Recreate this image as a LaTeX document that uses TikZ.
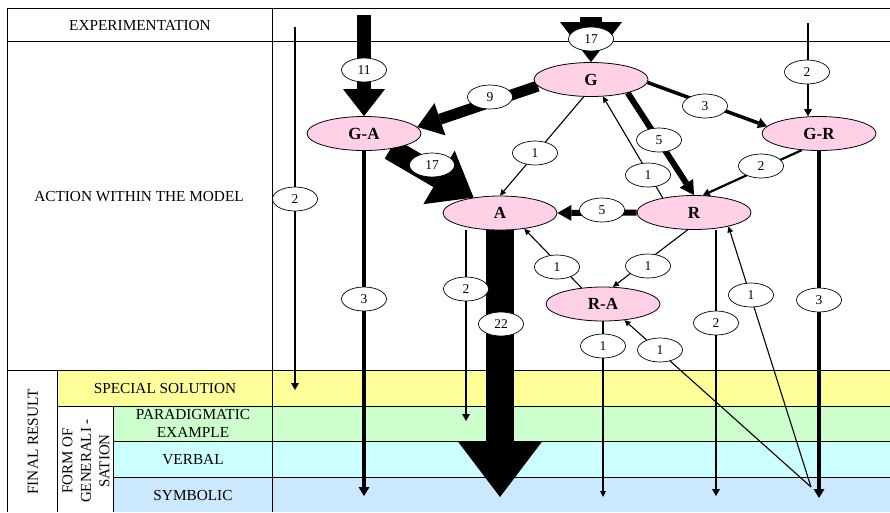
\documentclass[tikz,border=0pt]{standalone}
\usepackage{fontspec}
\setmainfont{Liberation Serif}
\usetikzlibrary{shapes.geometric,arrows.meta,calc}
\definecolor{bandY}{HTML}{FFFF99}
\definecolor{bandG}{HTML}{CCFFCC}
\definecolor{bandC}{HTML}{CCFFFF}
\definecolor{bandB}{HTML}{CCE8FF}
\definecolor{nodepink}{HTML}{FFD0E6}
\pgfdeclarelayer{bg}
\pgfdeclarelayer{edges}
\pgfsetlayers{bg,edges,main}
\tikzset{
  state/.style={ellipse, draw, line width=0.8pt, fill=nodepink, minimum width=114pt, minimum height=34pt, inner sep=0pt, font=\fontsize{17}{20}\selectfont\bfseries},
  cnt/.style={ellipse, draw, line width=0.7pt, fill=white, minimum width=45pt, minimum height=24pt, inner sep=0pt, font=\fontsize{13.5}{15}\selectfont},
  rowlab/.style={font=\fontsize{15.3}{18}\selectfont, align=center, inner sep=0pt},
  gridline/.style={line width=0.9pt},
  wa/.style={line width=1.1pt, -{Triangle[width=6pt,length=6pt,line width=0pt]}},
  wb/.style={line width=2.2pt, -{Triangle[width=8pt,length=7pt,line width=0pt]}},
  wc/.style={line width=3.5pt, -{Triangle[width=11pt,length=9pt,line width=0pt]}},
  we/.style={line width=6pt, -{Triangle[width=16pt,length=14pt,line width=0pt]}},
  wi/.style={line width=11pt, -{Triangle[width=34pt,length=24pt,line width=0pt]}},
  wk/.style={line width=14pt, -{Triangle[width=42pt,length=27pt,line width=0pt]}},
  wq/.style={line width=22.5pt, -{Triangle[width=62pt,length=40pt,line width=0pt]}},
  wv/.style={line width=28pt, -{Triangle[width=85pt,length=56pt,line width=0pt]}},
}
\begin{document}
\begin{tikzpicture}[x=1pt,y=-1pt]
\useasboundingbox (0,0) rectangle (890,512);
% bands and grid
\begin{pgfonlayer}{bg}
\fill[white] (0,0) rectangle (890,512);
\fill[bandY] (57,370) rectangle (890,406);
\fill[bandG] (113,406) rectangle (890,441);
\fill[bandC] (113,441) rectangle (890,477);
\fill[bandB] (113,477) rectangle (890,512);
\draw[gridline] (890,8) -- (7,8) -- (7,512);
\draw[gridline] (272,8) -- (272,512);
\draw[gridline] (7,41) -- (890,41);
\draw[gridline] (7,370) -- (890,370);
\draw[gridline] (57,406) -- (890,406);
\draw[gridline] (113,441) -- (890,441);
\draw[gridline] (113,477) -- (890,477);
\draw[gridline] (57,370) -- (57,512);
\draw[gridline] (113,406) -- (113,512);
\end{pgfonlayer}
% row labels
\node[rowlab] (tExp) at (140,25.5) {EXPERIMENTATION};
\node[rowlab] (tAct) at (139,197) {ACTION WITHIN THE MODEL};
\node[rowlab] (tSpec) at (165,388) {SPECIAL SOLUTION};
\node[rowlab] (tPar) at (193,423.5) {PARADIGMATIC\\EXAMPLE};
\node[rowlab] (tVerb) at (193,460) {VERBAL};
\node[rowlab] (tSym) at (193,495) {SYMBOLIC};
\node[rowlab, rotate=90] (tFin) at (33,442) {FINAL RESULT};
\node[rowlab, rotate=90, font=\fontsize{15}{18.5}\selectfont] (tForm) at (86,461) {FORM OF\\GENERALI -\\SATION};
% states
\node[state] (G) at (591,79.5) {G};
\node[state] (GA) at (364,133.5) {G-A};
\node[state] (GR) at (819,133.5) {G-R};
\node[state] (A) at (500,213) {A};
\node[state] (R) at (694,212.5) {R};
\node[state] (RA) at (603,304) {R-A};
% free ends
\coordinate (sL) at (295,27);
\coordinate (eL) at (295,390);
\coordinate (s11) at (364,15);
\coordinate (s17) at (591,17);
\coordinate (s2R) at (808,23);
\coordinate (eGA) at (364,496);
\coordinate (eA2) at (466,421);
\coordinate (e22) at (500,497);
\coordinate (eR2) at (716,496);
\coordinate (eGR) at (819,498);
\coordinate (eRA) at (603,497);
\coordinate (src) at (811,487);
% connectors
\begin{pgfonlayer}{edges}
\draw[wb] (sL) -- (eL);
\draw[wk] (s11) -- (GA.north);
\draw[wq] (s17) -- (G.north);
\draw[wi] (G.187) -- (GA.7);
\draw[wq] (GA) -- (A);
\draw[wc] (G.-3) -- (GR.172);
\draw[wb] (s2R) -- (s2R |- GR.north);
\draw[wa] (G.247) -- (A.north);
\draw[we] (G.-20) -- (R.north);
\draw[wa] (R.155) -- (G.305);
\draw[wb] (GR.224) -- (R.63);
\draw[we] (R.west) -- (A.east);
\draw[wc] (GA.south) -- (eGA);
\draw[wb] (A.south -| eA2) -- (eA2);
\draw[wv] (A.south) -- (e22);
\draw[wb] (R.south -| eR2) -- (eR2);
\draw[wc] (GR.south) -- (eGR);
\draw[wa] (R.250) -- (RA.60);
\draw[wa] (RA.143) -- (A.-33);
\draw[wa] (RA.south) -- (eRA);
\draw[wa] (src) -- (R.-22);
\draw[wa] (src) -- (RA.-37);
\end{pgfonlayer}
% counts
\node[cnt] (n17t) at (591,39) {17};
\node[cnt] (n11) at (364,70) {11};
\node[cnt] (n9) at (490,97) {9};
\node[cnt] (n3a) at (705,106) {3};
\node[cnt] (n2a) at (807,72) {2};
\node[cnt] (n1a) at (535,153) {1};
\node[cnt] (n17b) at (432,165) {17};
\node[cnt] (n5a) at (659,140) {5};
\node[cnt] (n1b) at (648,175) {1};
\node[cnt] (n2b) at (761,166) {2};
\node[cnt] (n2L) at (295,199) {2};
\node[cnt] (n5b) at (602,210) {5};
\node[cnt] (n3b) at (364,299) {3};
\node[cnt] (n2c) at (466,289) {2};
\node[cnt] (n22) at (501,324) {22};
\node[cnt] (n1c) at (557,267) {1};
\node[cnt] (n1d) at (648,266) {1};
\node[cnt] (n1e) at (751,295) {1};
\node[cnt] (n3c) at (819,300) {3};
\node[cnt] (n2d) at (716,323) {2};
\node[cnt] (n1f) at (603,346) {1};
\node[cnt] (n1g) at (660,350) {1};
\end{tikzpicture}
\end{document}
